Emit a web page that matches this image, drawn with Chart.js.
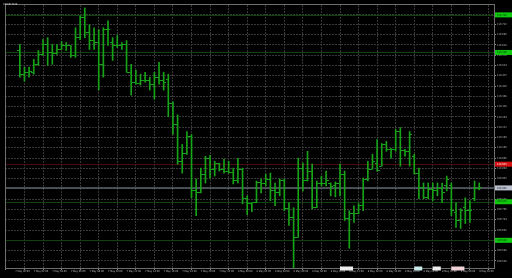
<!DOCTYPE html>
<html>
<head>
<meta charset="utf-8">
<script src="https://cdn.jsdelivr.net/npm/chart.js@4.4.1/dist/chart.umd.min.js"></script>
<style>
  html, body { margin: 0; padding: 0; background: #000; }
  #wrap { width: 512px; height: 278px; }
</style>
</head>
<body>
<div id="wrap"><canvas id="chart"></canvas></div>
<script>
const symbol = 'USDJPY,M30';

// one label per grid line (every 4 bars)
const timeLabels = [
    '7 May 00:00', '7 May 02:00', '7 May 04:00', '7 May 06:00', '7 May 08:00', '7 May 10:00',
    '7 May 12:00', '7 May 14:00', '7 May 16:00', '7 May 18:00', '7 May 20:00', '7 May 22:00',
    '8 May 00:00', '8 May 02:00', '8 May 04:00', '8 May 06:00', '8 May 08:00', '8 May 10:00',
    '8 May 12:00', '8 May 14:00', '8 May 16:00', '8 May 18:00', '8 May 20:00', '8 May 22:00',
    '9 May 00:00', '9 May 02:00'
];

const priceTicks = [
    110.784, 110.732, 110.680, 110.628, 110.576, 110.524, 110.472, 110.420, 110.368, 110.316,
    110.264, 110.212, 110.160, 110.108, 110.056, 110.004, 109.952, 109.900, 109.848, 109.796,
    109.744, 109.692, 109.640, 109.588, 109.536
];

const opens = [
    110.600, 110.480, 110.490, 110.490, 110.530, 110.580, 110.630, 110.590, 110.585, 110.605,
    110.625, 110.625, 110.575, 110.665, 110.765, 110.690, 110.650, 110.640, 110.530, 110.705,
    110.640, 110.625, 110.625, 110.630, 110.490, 110.440, 110.435, 110.450, 110.450, 110.430,
    110.465, 110.450, 110.455, 110.330, 110.225, 110.040, 110.080, 110.165, 109.890, 109.880,
    109.975, 110.055, 110.000, 110.030, 110.000, 109.990, 109.985, 109.940, 110.000, 109.850,
    109.825, 109.830, 109.930, 109.925, 109.950, 109.890, 109.880, 109.940, 109.800, 109.755,
    109.655, 110.005, 109.940, 109.990, 109.805, 109.925, 109.925, 109.925, 109.915, 109.925,
    109.975, 109.750, 109.775, 109.775, 109.815, 109.950, 110.000, 110.030, 110.015, 110.125,
    110.100, 110.100, 110.190, 110.095, 110.090, 110.065, 109.980, 109.905, 109.855, 109.895,
    109.890, 109.900, 109.915, 109.915, 109.780, 109.740, 109.805, 109.790, 109.850, 109.900
];
const highs = [
    110.630, 110.515, 110.515, 110.555, 110.600, 110.655, 110.665, 110.630, 110.630, 110.645,
    110.640, 110.625, 110.715, 110.775, 110.815, 110.730, 110.715, 110.705, 110.715, 110.750,
    110.665, 110.675, 110.640, 110.650, 110.530, 110.500, 110.480, 110.490, 110.465, 110.490,
    110.540, 110.490, 110.480, 110.340, 110.275, 110.125, 110.190, 110.175, 109.950, 110.005,
    110.065, 110.070, 110.040, 110.030, 110.050, 110.040, 110.005, 110.055, 110.005, 109.865,
    109.830, 109.940, 109.950, 109.975, 109.980, 109.930, 109.950, 109.950, 109.830, 109.805,
    110.055, 110.030, 110.090, 110.025, 109.940, 109.965, 109.990, 109.930, 109.935, 110.025,
    109.990, 109.790, 109.815, 109.825, 109.955, 110.040, 110.075, 110.150, 110.130, 110.140,
    110.105, 110.200, 110.210, 110.100, 110.190, 110.075, 110.005, 109.930, 109.930, 109.930,
    109.930, 109.930, 109.965, 109.930, 109.830, 109.800, 109.855, 109.840, 109.940, 109.930
];
const lows = [
    110.465, 110.445, 110.465, 110.480, 110.525, 110.575, 110.525, 110.530, 110.580, 110.605,
    110.600, 110.565, 110.565, 110.655, 110.665, 110.605, 110.605, 110.400, 110.465, 110.625,
    110.550, 110.615, 110.605, 110.490, 110.375, 110.430, 110.425, 110.440, 110.400, 110.355,
    110.430, 110.400, 110.265, 110.175, 110.025, 109.980, 110.075, 109.855, 109.765, 109.880,
    109.930, 109.955, 109.965, 109.990, 109.980, 109.980, 109.925, 109.930, 109.825, 109.770,
    109.785, 109.830, 109.880, 109.915, 109.840, 109.815, 109.865, 109.790, 109.715, 109.500,
    109.655, 109.890, 109.940, 109.800, 109.805, 109.915, 109.915, 109.865, 109.860, 109.865,
    109.740, 109.600, 109.730, 109.775, 109.790, 109.940, 110.000, 109.990, 110.015, 110.090,
    110.055, 110.090, 110.015, 110.065, 110.015, 109.975, 109.850, 109.850, 109.850, 109.840,
    109.865, 109.830, 109.890, 109.765, 109.705, 109.700, 109.725, 109.730, 109.840, 109.895
];
const closes = [
    110.480, 110.490, 110.495, 110.530, 110.580, 110.630, 110.590, 110.585, 110.605, 110.625,
    110.625, 110.575, 110.665, 110.765, 110.690, 110.650, 110.640, 110.530, 110.705, 110.705,
    110.625, 110.625, 110.630, 110.490, 110.440, 110.435, 110.450, 110.450, 110.430, 110.465,
    110.450, 110.440, 110.330, 110.225, 110.040, 110.080, 110.165, 109.890, 109.880, 109.975,
    110.055, 110.000, 110.030, 110.000, 109.990, 109.985, 109.940, 110.000, 109.850, 109.825,
    109.830, 109.930, 109.925, 109.950, 109.890, 109.880, 109.940, 109.800, 109.755, 109.655,
    110.005, 109.940, 109.990, 109.805, 109.925, 109.925, 109.940, 109.910, 109.925, 109.975,
    109.750, 109.775, 109.775, 109.815, 109.950, 110.000, 110.040, 109.995, 110.125, 110.100,
    110.100, 110.190, 110.095, 110.090, 110.175, 109.980, 109.905, 109.855, 109.895, 109.890,
    109.900, 109.880, 109.950, 109.790, 109.740, 109.790, 109.790, 109.790, 109.900, 109.905
];

// horizontal lines drawn on the chart
const levelPrices = [110.780, 110.590, 110.025, 109.835, 109.640];
const levelKinds  = ['green', 'green', 'red', 'green', 'green'];
const bidPrice = 109.905;

// small markers sitting on the time axis
const eventBars = [69, 85, 89, 93];

const barColor = '#17a317';
const tinyFont = { size: 2.6, family: 'DejaVu Sans Condensed' };

function tickMark(side) {
    const c = document.createElement('canvas');
    c.width = 5;
    c.height = 1;
    const g = c.getContext('2d');
    g.fillStyle = barColor;
    if (side === 'left') g.fillRect(0, 0, 2, 1);
    else g.fillRect(3, 0, 2, 1);
    return c;
}

const mt4Look = {
    id: 'mt4Look',
    beforeDraw(chart) {
        const ctx = chart.ctx;
        ctx.save();
        ctx.fillStyle = '#000';
        ctx.fillRect(0, 0, chart.width, chart.height);
        ctx.restore();
    },
    beforeDatasetsDraw(chart) {
        const ctx = chart.ctx;
        const a = chart.chartArea;
        const y = chart.scales.y;
        ctx.save();
        levelPrices.forEach((p, i) => {
            const py = Math.round(y.getPixelForValue(p)) + 0.5;
            ctx.strokeStyle = levelKinds[i] === 'red' ? '#4a0c0c' : '#0f420f';
            ctx.lineWidth = 1;
            ctx.beginPath();
            ctx.moveTo(a.left, py);
            ctx.lineTo(a.right, py);
            ctx.stroke();
        });
        const by = y.getPixelForValue(bidPrice);
        ctx.strokeStyle = '#5c636e';
        ctx.lineWidth = 1.5;
        ctx.beginPath();
        ctx.moveTo(a.left, by);
        ctx.lineTo(a.right, by);
        ctx.stroke();
        ctx.restore();
    },
    afterDraw(chart) {
        const ctx = chart.ctx;
        const a = chart.chartArea;
        const x = chart.scales.x;
        const y = chart.scales.y;
        ctx.save();

        // frame
        ctx.strokeStyle = '#6e6e6e';
        ctx.lineWidth = 1;
        ctx.strokeRect(a.left + 0.5, a.top - 0.5, a.right - a.left, a.bottom - a.top + 1);

        // price boxes on the right scale
        ctx.font = '2.6px "DejaVu Sans Condensed"';
        ctx.textBaseline = 'middle';
        const box = (p, bg, fg) => {
            const py = y.getPixelForValue(p);
            ctx.fillStyle = bg;
            ctx.fillRect(a.right + 1, py - 2.5, chart.width - a.right - 1, 5);
            ctx.fillStyle = fg;
            ctx.fillText(p.toFixed(3), a.right + 3, py);
        };
        levelPrices.forEach((p, i) => {
            if (levelKinds[i] === 'red') box(p, '#d81212', '#fff');
            else box(p, '#10c810', '#063006');
        });
        box(bidPrice, '#b9c1cf', '#222');

        // symbol caption
        ctx.fillStyle = '#d8d8d8';
        ctx.textBaseline = 'top';
        ctx.fillText(symbol, 3, 3);

        // event markers on the time axis
        const evColors = ['#ededed', '#c9eaea', '#ededed', '#f0d2d8'];
        const evWidths = [13, 8, 8, 13];
        eventBars.forEach((b, i) => {
            const px = x.getPixelForValue(b);
            ctx.fillStyle = evColors[i];
            ctx.fillRect(px, a.bottom - 1.5, evWidths[i], 4);
        });
        ctx.restore();
    }
};

const bars = opens.map((o, i) => ({ x: i, y: [lows[i], highs[i]] }));
const openPts = opens.map((o, i) => ({ x: i, y: o }));
const closePts = closes.map((c, i) => ({ x: i, y: c }));

new Chart(document.getElementById('chart'), {
    type: 'bar',
    data: {
        datasets: [
            {
                type: 'bar',
                data: bars,
                backgroundColor: barColor,
                barThickness: 1,
                borderWidth: 0
            },
            {
                type: 'line',
                data: openPts,
                showLine: false,
                pointStyle: tickMark('left'),
                pointRadius: 2
            },
            {
                type: 'line',
                data: closePts,
                showLine: false,
                pointStyle: tickMark('right'),
                pointRadius: 2
            }
        ]
    },
    options: {
        responsive: true,
        maintainAspectRatio: false,
        animation: false,
        events: [],
        layout: { padding: { top: 2, left: 0, right: 0, bottom: 0 } },
        plugins: { legend: { display: false }, tooltip: { enabled: false } },
        scales: {
            x: {
                type: 'linear',
                min: -1.17,
                max: 100.16,
                afterBuildTicks: (s) => { s.ticks = timeLabels.map((t, k) => ({ value: 4 * k - 1 })); },
                afterFit: (s) => { s.height = 10; s.paddingLeft = 0; s.paddingRight = 0; },
                ticks: {
                    autoSkip: false,
                    maxRotation: 0,
                    align: 'start',
                    padding: 0,
                    color: '#bdbdbd',
                    font: tinyFont,
                    callback: (v, i) => timeLabels[i]
                },
                grid: { color: '#383838', tickColor: '#8a8a8a', tickLength: 2 },
                border: { display: false, dash: [2, 1] }
            },
            y: {
                position: 'right',
                min: 109.500,
                max: 110.830,
                afterBuildTicks: (s) => { s.ticks = priceTicks.map(v => ({ value: v })); },
                afterFit: (s) => { s.width = 18; s.paddingTop = 0; s.paddingBottom = 0; },
                ticks: {
                    padding: 1,
                    color: '#bdbdbd',
                    font: tinyFont,
                    callback: (v) => v.toFixed(3)
                },
                grid: { color: '#383838', tickColor: '#8a8a8a', tickLength: 2 },
                border: { display: false, dash: [2, 1] }
            }
        }
    },
    plugins: [mt4Look]
});
</script>
</body>
</html>
